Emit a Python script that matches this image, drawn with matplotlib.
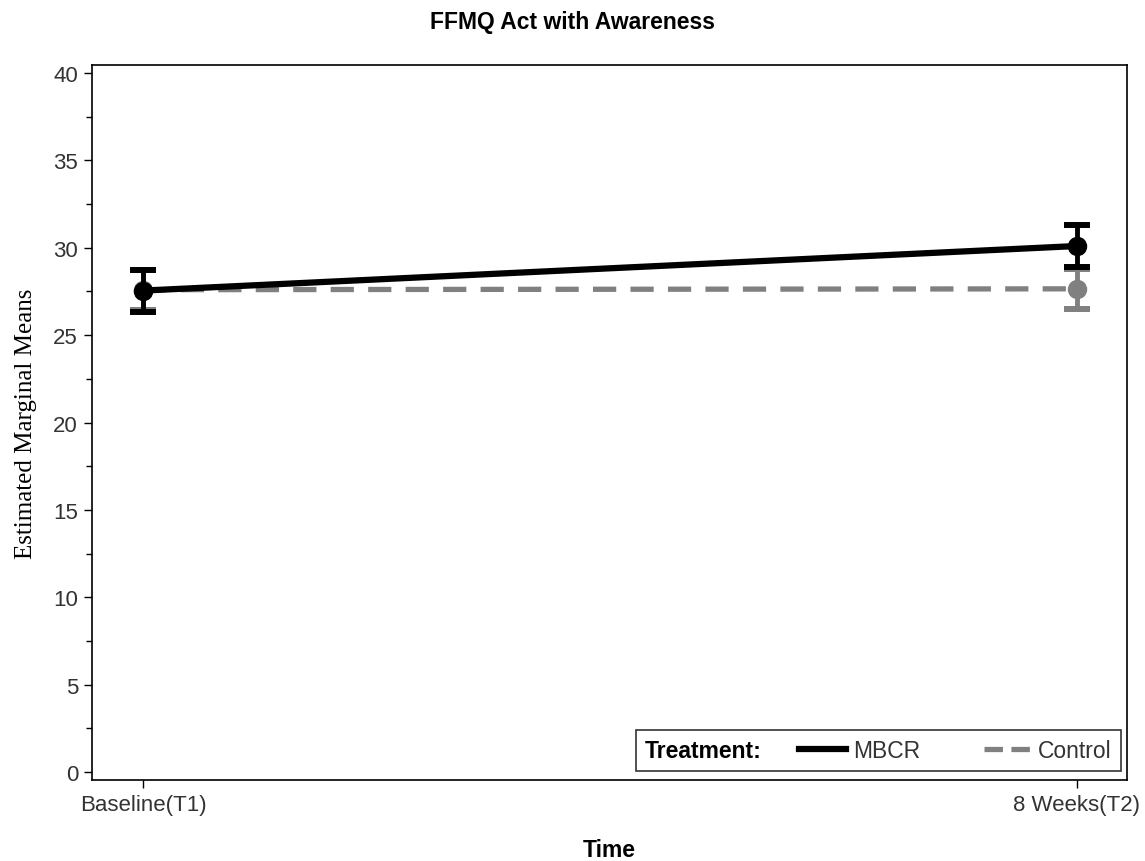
import matplotlib
matplotlib.use("Agg")
import matplotlib.pyplot as plt
from matplotlib.lines import Line2D
from matplotlib.offsetbox import HPacker
from matplotlib.ticker import MultipleLocator

# dati
tempi = ["Baseline(T1)", "8 Weeks(T2)"]
mbcr = [27.55, 30.1]
mbcr_err = [1.2, 1.2]
control = [27.6, 27.65]
control_err = [1.15, 1.15]

plt.rcParams['font.family'] = ['Liberation Sans', 'DejaVu Sans']

fig = plt.figure(figsize=(11.45, 8.62), dpi=100)
ax = fig.add_axes([92/1145, 1-781/862, (1127-92)/1145, (781-66)/862])

x = range(len(tempi))
grigio = '#808080'
tratteggio = (0, (4.4, 2.7))

ax.errorbar(x, control, yerr=control_err, color=grigio, lw=3.8, ls=tratteggio,
            marker='o', ms=13, capsize=9.7, capthick=4.3, elinewidth=3.5, zorder=2)
ax.errorbar(x, mbcr, yerr=mbcr_err, color='black', lw=4.5, ls='-',
            marker='o', ms=13, capsize=9.7, capthick=4.3, elinewidth=3.5, zorder=3)

ax.set_xlim(-0.055, 1.054)
ax.set_ylim(-0.46, 40.46)
ax.set_xticks(list(x))
ax.set_xticklabels(tempi)
ax.yaxis.set_major_locator(MultipleLocator(5))
ax.yaxis.set_minor_locator(MultipleLocator(2.5))
ax.tick_params(axis='both', which='major', direction='out', length=6, width=1,
               labelsize=16, labelcolor='#333333', pad=4)
ax.tick_params(axis='y', which='minor', direction='out', length=4, width=1)
for s in ax.spines.values():
    s.set_linewidth(1.2)

ax.set_xlabel('Time', fontsize=16.5, fontweight='bold', labelpad=17)
ax.set_ylabel('Estimated Marginal Means', fontsize=18, family=['Liberation Serif'], labelpad=12)
fig.suptitle('FFMQ Act with Awareness', fontsize=16.5, fontweight='bold', y=1-22/862, va='center')

h1 = Line2D([], [], color='black', lw=4.5)
h2 = Line2D([], [], color=grigio, lw=3.8, ls=(0, (3.5, 1.6)))
leg = ax.legend([h1, h2], ['MBCR', 'Control'], ncol=2, loc='lower right',
                bbox_to_anchor=(1 - 6/1035, 9/715), title='Treatment:',
                fontsize=16.5, title_fontproperties={'weight': 'bold', 'size': 16.5},
                frameon=True, fancybox=False, edgecolor='black', handlelength=2.05,
                handletextpad=0.3, columnspacing=2.8, borderpad=0.4, borderaxespad=0)
leg.get_frame().set_linewidth(1.2)
for t in leg.get_texts():
    t.set_color('#333333')
# titolo a sinistra invece che sopra
leg._legend_box.__class__ = HPacker
leg._legend_box.sep = 27
leg._legend_box.align = 'center'

fig.savefig("out.png", dpi=100)
